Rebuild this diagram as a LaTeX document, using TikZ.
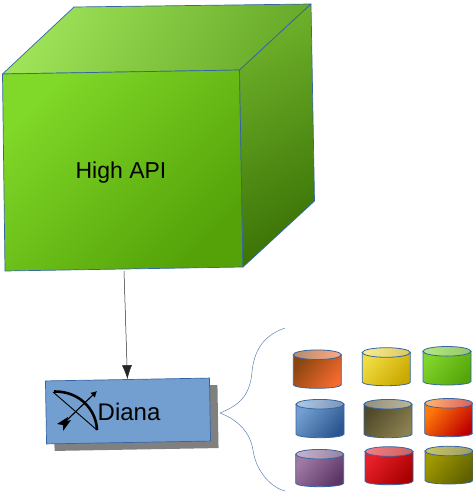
\documentclass[tikz,border=0pt]{standalone}
\usepackage{fontspec}
\setmainfont{Liberation Sans}
\usepackage{tikz}
\usetikzlibrary{arrows.meta,calc}
\definecolor{contorno}{HTML}{3465A4}
\definecolor{azulcaixa}{HTML}{729FCF}

\begin{document}
\begin{tikzpicture}[
x=1pt, y=-1pt,
face/.style={draw=contorno, line width=0.7pt, line join=round},
caixa/.style={draw=contorno, fill=azulcaixa, line width=0.7pt, minimum width=164pt, minimum height=63pt, rotate=1, inner sep=0pt},
sombra/.style={fill=black!50, minimum width=164pt, minimum height=63pt, rotate=1, inner sep=0pt},
rotulo/.style={font=\fontsize{23}{24}\selectfont, inner sep=0pt},
seta/.style={-{Latex[length=14pt, width=10pt]}, black!85, line width=0.5pt},
chave/.style={draw=contorno!80, line width=0.5pt},
corpo/.style={draw=contorno, line width=0.8pt},
tampa/.style={draw=contorno, line width=0.8pt}
]
\useasboundingbox (0,0) rectangle (473,496);
% cubo
\coordinate (a) at (2.5,74);
\coordinate (b) at (239.5,70);
\coordinate (c) at (243,267);
\coordinate (d) at (5,271);
\coordinate (e) at (74,7);
\coordinate (f) at (311,4);
\coordinate (g) at (314.5,201);
\coordinate (base) at (124,271);
\definecolor{topoA}{HTML}{9EE358}
\definecolor{topoB}{HTML}{69AB2A}
\definecolor{frenteA}{HTML}{80D828}
\definecolor{frenteB}{HTML}{54A208}
\definecolor{ladoA}{HTML}{6EB02A}
\definecolor{ladoB}{HTML}{3C7406}
\path[face, left color=topoA, right color=topoB, shading angle=65] (a) -- (e) -- (f) -- (b) -- cycle;
\path[face, left color=frenteA, right color=frenteB, shading angle=45] (a) -- (b) -- (c) -- (d) -- cycle;
\path[face, left color=ladoA, right color=ladoB, shading angle=30] (b) -- (f) -- (g) -- (c) -- cycle;
\node[rotulo] (api) at (121,173) {High API};
% caixa da Diana
\node[sombra] (sombra) at (136,418) {};
\node[caixa] (diana) at (128,411) {};
\node[rotulo, anchor=west, font=\fontsize{24}{24}\selectfont] (nome) at (97.5,412) {Diana};
\draw[seta] (base) -- (diana.north);
% arco e flecha
\draw[line width=0.9pt] (53,392) -- (97,430);
\draw[line width=2.6pt] (54,391.5) .. controls (78,391) and (96,408) .. (97,430);
\draw[line width=1.1pt, -{Latex[length=6pt, width=7pt]}] (66,421) -- (97,391);
\fill (57,424) -- (68,417) -- (67,421) -- (71,420) -- (63,431) -- (63,425) -- cycle;
% chave
\coordinate (pontaA) at (285,328);
\coordinate (pontaB) at (285,491);
\coordinate (meio) at (220,413);
\draw[chave] (pontaA) .. controls (262,336) and (254,352) .. (252,372) .. controls (250,395) and (240,405) .. (meio);
\draw[chave] (meio) .. controls (238,420) and (250,432) .. (253,450) .. controls (256,472) and (272,488) .. (pontaB);
% cilindros
\foreach \cx/\cy/\fy/\ca/\cb in {
317.3/354.7/388.3/8A4510/F56A2E,
386.3/352.5/385.7/F0DC40/C9A800,
447/351.3/385/80D52A/55A50A,
320/404.2/437.7/729FCF/2A5590,
388/404.2/437.7/4F4A2A/8C8050,
448.7/403.3/436.7/FF7A0A/C00000,
319.7/454.2/486.7/A07AA5/5C3566,
389/451.5/484.7/E8202A/A80000,
449/451/484/A09A00/606000}{
\definecolor{corA}{HTML}{\ca}
\definecolor{corB}{HTML}{\cb}
\path[corpo, left color=corA, right color=corB, shading angle=50] (\cx-24,\cy) -- (\cx-24,\fy-3.5) arc[start angle=180, end angle=0, x radius=24, y radius=3.5] -- (\cx+24,\cy) -- cycle;
\path[tampa, left color=corA!60!white, right color=corB!60!white, shading angle=70] (\cx,\cy) circle[x radius=24, y radius=4.8];
}
\end{tikzpicture}
\end{document}
